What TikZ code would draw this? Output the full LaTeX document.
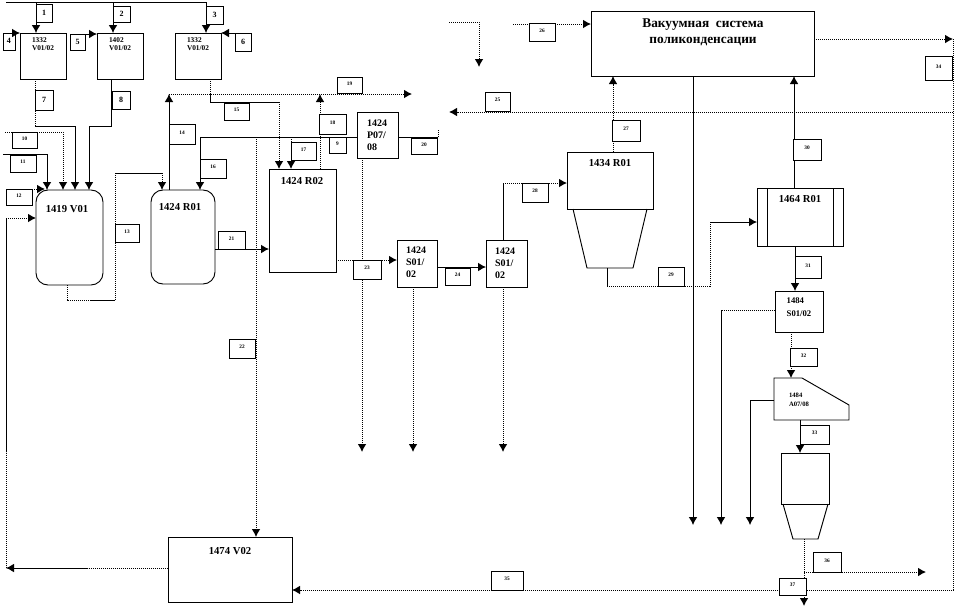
\documentclass[tikz,border=0pt]{standalone}
\usepackage{fontspec}
\setmainfont{Liberation Serif}
\usetikzlibrary{arrows.meta}
\newcommand{\px}{*0.75pt}
\tikzset{
  unit/.style={draw, rectangle, anchor=north west, inner sep=0pt, outer sep=0pt, line width=0.7pt},
  title/.style={inner sep=0pt, align=left, font=\fontsize{8}{9.5}\selectfont\bfseries},
  tag/.style={draw, rectangle, fill=white, anchor=north west, inner sep=0pt, outer sep=0pt, line width=0.6pt, text height=3pt, text depth=2.5pt, font=\fontsize{4}{4}\selectfont\bfseries},
  bigtag/.style={tag, text height=4pt, text depth=1pt, font=\fontsize{6}{6}\selectfont\bfseries},
  pipe/.style={line width=0.7pt},
  dotpipe/.style={line width=0.75pt, dash pattern=on 0.9pt off 0.6pt}
}
\begin{document}
\begin{tikzpicture}[x=0.75pt, y=-0.75pt, >={Latex[length=6pt,width=6.5pt]}]
\useasboundingbox (0,0) rectangle (956,608);

% Dosing tanks
\node[unit, minimum width=46\px, minimum height=46\px] (b1) at (20,33) {};
\node[unit, minimum width=46\px, minimum height=46\px] (b2) at (97,33) {};
\node[unit, minimum width=46\px, minimum height=46\px] (b3) at (175,33) {};
\node[title, font=\fontsize{5.5}{6.5}\selectfont\bfseries] (b1t) at (43,44) {1332\\V01/02};
\node[title, font=\fontsize{5.5}{6.5}\selectfont\bfseries] (b2t) at (120,44) {1402\\V01/02};
\node[title, font=\fontsize{5.5}{6.5}\selectfont\bfseries] (b3t) at (198,44) {1332\\V01/02};

% Reactors
\node[unit, rounded corners=9pt, minimum width=67\px, minimum height=95\px] (v01) at (36,190) {};
\node[title] (v01t) at (67,209) {1419 V01};
\node[unit, rounded corners=9pt, minimum width=64\px, minimum height=94\px] (r01) at (151,190) {};
\node[title] (r01t) at (180,207) {1424 R01};
\node[unit, minimum width=67\px, minimum height=103\px] (r02) at (269,169) {};
\node[title] (r02t) at (302,181) {1424 R02};
\node[unit, minimum width=41\px, minimum height=46\px] (p07) at (357,112) {};
\node[title, font=\fontsize{7.5}{9}\selectfont\bfseries] (p07t) at (377,135) {1424\\P07/\\08};

% Filters
\node[unit, minimum width=40\px, minimum height=47\px] (s1a) at (397,240) {};
\node[title, font=\fontsize{7.5}{9}\selectfont\bfseries] (s1at) at (416,262) {1424\\S01/\\02};
\node[unit, minimum width=41\px, minimum height=47\px] (s1b) at (486,240) {};
\node[title, font=\fontsize{7.5}{9}\selectfont\bfseries] (s1bt) at (505,263) {1424\\S01/\\02};

% Vacuum system
\node[unit, minimum width=223\px, minimum height=65\px] (vac) at (591,11) {};
\node[title, align=center, font=\fontsize{10}{12}\selectfont\bfseries] (vact) at (703,32) {Вакуумная\ \ система\\поликонденсации};

% Second stage
\node[unit, minimum width=86\px, minimum height=57\px] (r34) at (567,152) {};
\node[title] (r34t) at (610,163) {1434 R01};
\draw[pipe] (573,209) -- (587,268) -- (633,268) -- (647,209);
\node[unit, minimum width=86\px, minimum height=58\px] (r64) at (757,188) {};
\node[title] (r64t) at (800,199) {1464 R01};
\draw[pipe] (r64.north west) ++(10,0) -- ++(0,58);
\draw[pipe] (r64.north east) ++(-10,0) -- ++(0,58);
\node[unit, minimum width=48\px, minimum height=41\px] (s84) at (775,291) {};
\node[title, font=\fontsize{6.5}{9.5}\selectfont\bfseries] (s84t) at (799,307) {1484\\S01/02};

% Screen and silo
\draw[pipe] (774,378) -- (802,378) -- (849,405) -- (849,420) -- (774,420) -- cycle;
\node[title, font=\fontsize{5}{6.5}\selectfont\bfseries] (scrt) at (799,400) {1484\\A07/08};
\node[unit, minimum width=48\px, minimum height=51\px] (cyl) at (781,453) {};
\draw[pipe] (783,504) -- (793,539) -- (818,539) -- (828,504);
\node[unit, minimum width=124\px, minimum height=65\px] (v02) at (168,537) {};
\node[title] (v02t) at (230,551) {1474 V02};

% Feed lines
\coordinate (feedl) at (6,2);
\coordinate (feedr) at (206,2);
\coordinate (feedm) at (113,2);
\coordinate (feeda) at (36,2);
\draw[pipe] (feedl) -- (feedr);
\draw[pipe,->] (feeda) -- (feeda |- b1.north);
\draw[pipe,->] (feedm) -- (feedm |- b2.north);
\draw[pipe,->] (feedr) -- (feedr |- b3.north);

% Into 1419 V01
\coordinate (b1out) at (35,126);
\coordinate (v1a) at (75,126);
\coordinate (b2out) at (111,126);
\coordinate (v1b) at (89,126);
\draw[dotpipe] (b1out |- b1.south) -- (b1out);
\draw[pipe,->] (b1out) -- (v1a) -- (v1a |- v01.north);
\draw[pipe,->] (b2out |- b2.south) -- (b2out) -- (v1b) -- (v1b |- v01.north);
\coordinate (in10) at (5,132);
\coordinate (in10b) at (63,132);
\draw[dotpipe,->] (in10) -- (in10b) -- (in10b |- v01.north);
\coordinate (in11) at (3,154);
\coordinate (in11b) at (47,154);
\draw[pipe,->] (in11) -- (in11b) -- (in11b |- v01.north);

% Return to 1419 V01
\coordinate (backl) at (6,568);
\coordinate (backm) at (88,568);
\coordinate (backt) at (6,218);
\coordinate (backs) at (6,452);
\draw[dotpipe] (v02.west |- backm) -- (backm);
\draw[pipe,->] (backm) -- (backl);
\draw[dotpipe] (backl) -- (backs);
\draw[pipe] (backs) -- (backt);
\draw[dotpipe,->] (backt) -- (backt -| v01.west);

% 1419 V01 to 1424 R01
\coordinate (vout) at (67,300);
\coordinate (vouta) at (90,300);
\coordinate (voutb) at (115,300);
\coordinate (voutc) at (115,173);
\coordinate (voutd) at (162,173);
\draw[dotpipe] (vout |- v01.south) -- (vout) -- (vouta);
\draw[pipe] (vouta) -- (voutb);
\draw[dotpipe] (voutb) -- (voutc);
\draw[pipe] (voutc) -- (voutd);
\draw[dotpipe,->] (voutd) -- (voutd |- r01.north);

% Vapour lines
\coordinate (b3out) at (210,94);
\coordinate (rup) at (169,94);
\coordinate (vent) at (412,94);
\coordinate (r02up) at (320,94);
\draw[dotpipe] (b3out |- b3.south) -- (b3out);
\draw[pipe,->] (rup |- r01.north) -- (rup);
\draw[dotpipe,->] (rup) -- (vent);
\draw[dotpipe,->] (r02up |- r02.north) -- (r02up);
\coordinate (b3b) at (210,102);
\coordinate (b3c) at (279,102);
\draw[pipe] (b3out) -- (b3b) -- (b3c);
\draw[dotpipe,->] (b3c) -- (b3c |- r02.north);

% Header from 1424 P07
\coordinate (hdr) at (200,137);
\coordinate (hdrb) at (256,137);
\coordinate (hdrc) at (291,137);
\coordinate (hdrd) at (438,137);
\coordinate (hdre) at (438,130);
\draw[pipe] (hdr) -- (hdr -| p07.west);
\draw[pipe,->] (hdr) -- (hdr |- r01.north);
\draw[dotpipe,->] (hdrb) -- (hdrb |- v02.north);
\draw[dotpipe,->] (hdrc) -- (hdrc |- r02.north);
\draw[pipe] (hdrd -| p07.east) -- (hdrd);
\draw[dotpipe] (hdrd) -- (hdre);
\coordinate (p07end) at (362,452);
\draw[dotpipe,->] (p07end |- p07.south) -- (p07end);

% Main flow
\coordinate (r12) at (240,249);
\draw[pipe,->] (r12 -| r01.east) -- (r12 -| r02.west);
\coordinate (r2s) at (370,260);
\draw[dotpipe,->] (r2s -| r02.east) -- (r2s -| s1a.west);
\coordinate (s2s) at (460,267);
\draw[pipe,->] (s2s -| s1a.east) -- (s2s -| s1b.west);
\coordinate (s1aend) at (413,452);
\coordinate (s1bend) at (503,452);
\draw[dotpipe,->] (s1aend |- s1a.south) -- (s1aend);
\draw[dotpipe,->] (s1bend |- s1b.south) -- (s1bend);
\coordinate (s1bup) at (503,183);
\draw[pipe] (s1bup |- s1b.north) -- (s1bup);
\draw[dotpipe,->] (s1bup) -- (s1bup -| r34.west);

% Vacuum connections
\coordinate (r34up) at (613,112);
\draw[dotpipe,->] (r34up |- r34.north) -- (r34up |- vac.south);
\coordinate (r64up) at (794,120);
\draw[pipe,->] (r64up |- r64.north) -- (r64up |- vac.south);
\coordinate (vacin) at (513,24);
\draw[dotpipe,->] (vacin) -- (vacin -| vac.west);
\coordinate (sidea) at (449,22);
\coordinate (sideb) at (479,22);
\coordinate (sidec) at (479,67);
\draw[dotpipe,->] (sidea) -- (sideb) -- (sidec);
\coordinate (longr) at (953,112);
\coordinate (longl) at (449,112);
\draw[dotpipe,->] (longr) -- (longl);
\coordinate (vacout) at (953,39);
\coordinate (ret) at (953,590);
\draw[dotpipe,->] (vacout -| vac.east) -- (vacout);
\draw[dotpipe,->] (vacout) -- (ret) -- (ret -| v02.east);
\coordinate (vacend) at (693,525);
\draw[pipe,->] (vacend |- vac.south) -- (vacend);

% 1434 R01 to 1464 R01
\coordinate (hop) at (607,268);
\coordinate (hopa) at (607,286);
\coordinate (hopb) at (710,286);
\coordinate (hopc) at (710,222);
\draw[pipe] (hop) -- (hopa);
\draw[dotpipe] (hopa) -- (hopb) -- (hopc);
\draw[pipe,->] (hopc) -- (hopc -| r64.west);

% Lower right
\coordinate (r64dn) at (795,270);
\draw[pipe,->] (r64dn |- r64.south) -- (r64dn |- s84.north);
\coordinate (s84l) at (721,310);
\coordinate (s84e) at (721,525);
\draw[dotpipe] (s84l -| s84.west) -- (s84l);
\draw[pipe,->] (s84l) -- (s84e);
\coordinate (scrin) at (791,378);
\draw[dotpipe,->] (scrin |- s84.south) -- (scrin);
\coordinate (scrl) at (774,400);
\coordinate (scrla) at (750,400);
\coordinate (scrlb) at (750,525);
\draw[pipe,->] (scrl) -- (scrla) -- (scrlb);
\coordinate (scrdn) at (800,420);
\draw[pipe,->] (scrdn) -- (scrdn |- cyl.north);
\coordinate (cyldn) at (804,539);
\coordinate (cylend) at (804,606);
\coordinate (cylb) at (804,572);
\coordinate (cylr) at (926,572);
\draw[dotpipe,->] (cyldn) -- (cylend);
\draw[dotpipe,->] (cylb) -- (cylr);

% Stream numbers
\node[bigtag, minimum width=16\px, minimum height=18\px] (t1) at (36,4) {1};
\node[bigtag, minimum width=17\px, minimum height=16\px] (t2) at (113,6) {2};
\node[bigtag, minimum width=17\px, minimum height=18\px] (t3) at (206,6) {3};
\node[bigtag, minimum width=12\px, minimum height=17\px] (t4) at (3,33) {4};
\node[bigtag, minimum width=15\px, minimum height=16\px] (t5) at (70,34) {5};
\node[bigtag, minimum width=16\px, minimum height=18\px] (t6) at (235,33) {6};
\node[bigtag, minimum width=18\px, minimum height=20\px] (t7) at (35,90) {7};
\node[bigtag, minimum width=18\px, minimum height=18\px] (t8) at (112,91) {8};
\node[tag, minimum width=17\px, minimum height=16\px] (t9) at (329,137) {9};
\node[tag, minimum width=25\px, minimum height=16\px] (t10) at (12,132) {10};
\node[tag, minimum width=26\px, minimum height=17\px] (t11) at (10,155) {11};
\node[tag, minimum width=26\px, minimum height=16\px] (t12) at (6,189) {12};
\node[tag, minimum width=24\px, minimum height=18\px] (t13) at (115,224) {13};
\node[tag, minimum width=26\px, minimum height=20\px] (t14) at (169,124) {14};
\node[tag, minimum width=25\px, minimum height=17\px] (t15) at (224,103) {15};
\node[tag, minimum width=26\px, minimum height=19\px] (t16) at (200,159) {16};
\node[tag, minimum width=25\px, minimum height=18\px] (t17) at (291,142) {17};
\node[tag, minimum width=27\px, minimum height=20\px] (t18) at (319,114) {18};
\node[tag, minimum width=25\px, minimum height=16\px] (t19) at (337,77) {19};
\node[tag, minimum width=26\px, minimum height=16\px] (t20) at (411,138) {20};
\node[tag, minimum width=27\px, minimum height=18\px] (t21) at (218,231) {21};
\node[tag, minimum width=26\px, minimum height=19\px] (t22) at (229,339) {22};
\node[tag, minimum width=28\px, minimum height=19\px] (t23) at (353,260) {23};
\node[tag, minimum width=25\px, minimum height=17\px] (t24) at (445,268) {24};
\node[tag, minimum width=25\px, minimum height=19\px] (t25) at (485,92) {25};
\node[tag, minimum width=26\px, minimum height=18\px] (t26) at (529,23) {26};
\node[tag, minimum width=28\px, minimum height=21\px] (t27) at (612,120) {27};
\node[tag, minimum width=26\px, minimum height=19\px] (t28) at (522,183) {28};
\node[tag, minimum width=26\px, minimum height=19\px] (t29) at (658,267) {29};
\node[tag, minimum width=28\px, minimum height=21\px] (t30) at (793,139) {30};
\node[tag, minimum width=26\px, minimum height=22\px] (t31) at (795,256) {31};
\node[tag, minimum width=27\px, minimum height=18\px] (t32) at (790,348) {32};
\node[tag, minimum width=29\px, minimum height=19\px] (t33) at (800,425) {33};
\node[tag, minimum width=27\px, minimum height=24\px] (t34) at (925,56) {34};
\node[tag, minimum width=32\px, minimum height=19\px] (t35) at (491,571) {35};
\node[tag, minimum width=28\px, minimum height=20\px] (t36) at (813,552) {36};
\node[tag, minimum width=27\px, minimum height=17\px] (t37) at (779,578) {37};

% Additive lines
\draw[pipe,->] (t4.north east) -- (t4.north east -| b1.west);
\draw[pipe,->] (t5.north east) -- (t5.north east -| b2.west);
\draw[pipe,->] (t6.north west) -- (t6.north west -| b3.east);
\draw[dotpipe,->] (t12.north east) -- ([xshift=9\px]t12.north east -| v01.west);
\end{tikzpicture}
\end{document}
